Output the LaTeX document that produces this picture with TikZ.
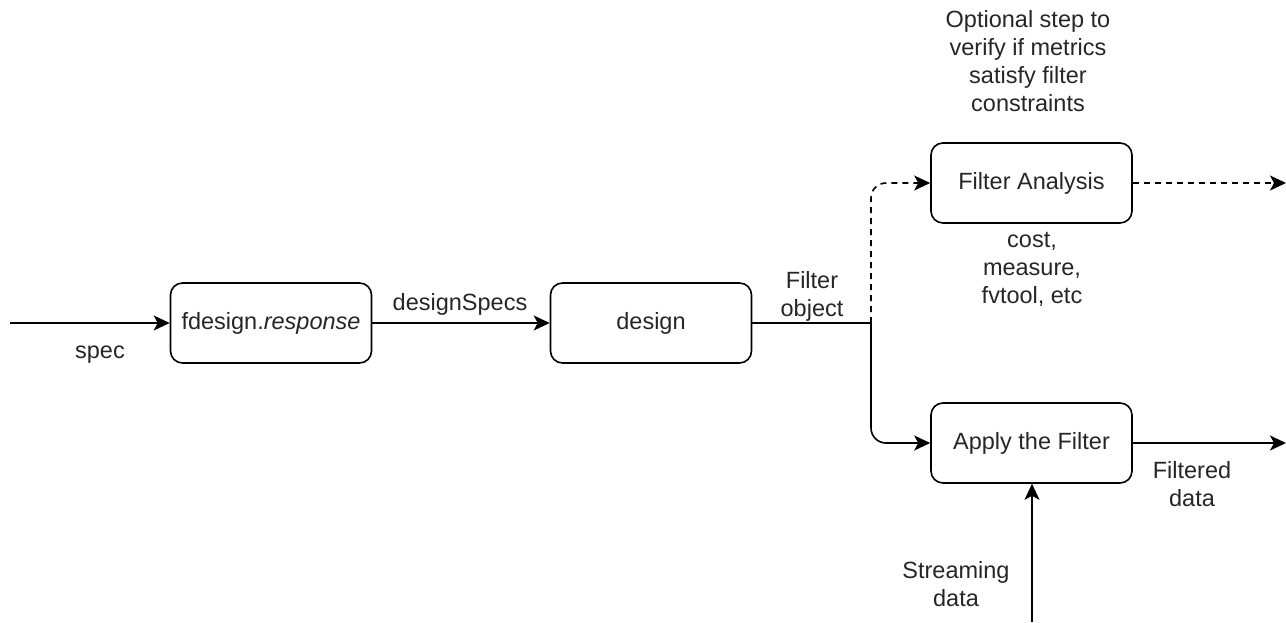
\documentclass[tikz,border=0pt]{standalone}
\usepackage{fontspec}
\setmainfont{Liberation Sans}
\usetikzlibrary{arrows.meta}
\begin{document}
\begin{tikzpicture}[x=1pt,y=-1pt,
  box/.style={draw, line width=1.6pt, rounded corners=12pt, minimum width=201pt, minimum height=80pt, inner sep=0pt, font=\fontsize{23.5}{28}\selectfont, text=black!85},
  lbl/.style={font=\fontsize{23.5}{28}\selectfont, align=center, inner sep=0pt, text=black!85},
  conn/.style={line width=1.6pt, -{Stealth[length=16pt,width=15pt,inset=4pt]}},
  line/.style={line width=1.6pt}
]
\useasboundingbox (0,0) rectangle (1286,622);
\node[box] (fd) at (271,323) {fdesign.\textit{response}};
\node[box] (des) at (651,323) {design};
\node[box] (fa) at (1031.5,183) {Filter Analysis};
\node[box] (ap) at (1031.5,443) {Apply the Filter};
\coordinate (in) at (10,323);
\coordinate (split) at (871,323);
\coordinate (faout) at (1286,183);
\coordinate (apout) at (1286,443);
\coordinate (stream) at (1032,622);
\draw[conn] (in) -- (fd.west);
\draw[conn] (fd.east) -- (des.west);
\draw[line] (des.east) -- (split);
\draw[conn, rounded corners=15pt] (split) |- (ap.west);
\draw[conn, dashed, dash pattern=on 6pt off 5pt, rounded corners=15pt] (split) |- (fa.west);
\draw[conn, dashed, dash pattern=on 6pt off 5pt] (fa.east) -- (faout);
\draw[conn] (ap.east) -- (apout);
\draw[conn] (stream) -- (stream |- ap.south);
\node[lbl] (spec) at (100,355) {spec};
\node[lbl] (ds) at (460,304) {designSpecs};
\node[lbl] (fo) at (812,296) {Filter\\object};
\node[lbl] (opt) at (1028,61) {Optional step to\\verify if metrics\\satisfy filter\\constraints};
\node[lbl] (cost) at (1032,269) {cost,\\measure,\\fvtool, etc};
\node[lbl] (fdata) at (1192,484) {Filtered\\data};
\node[lbl] (sdata) at (956,584) {Streaming\\data};
\end{tikzpicture}
\end{document}
